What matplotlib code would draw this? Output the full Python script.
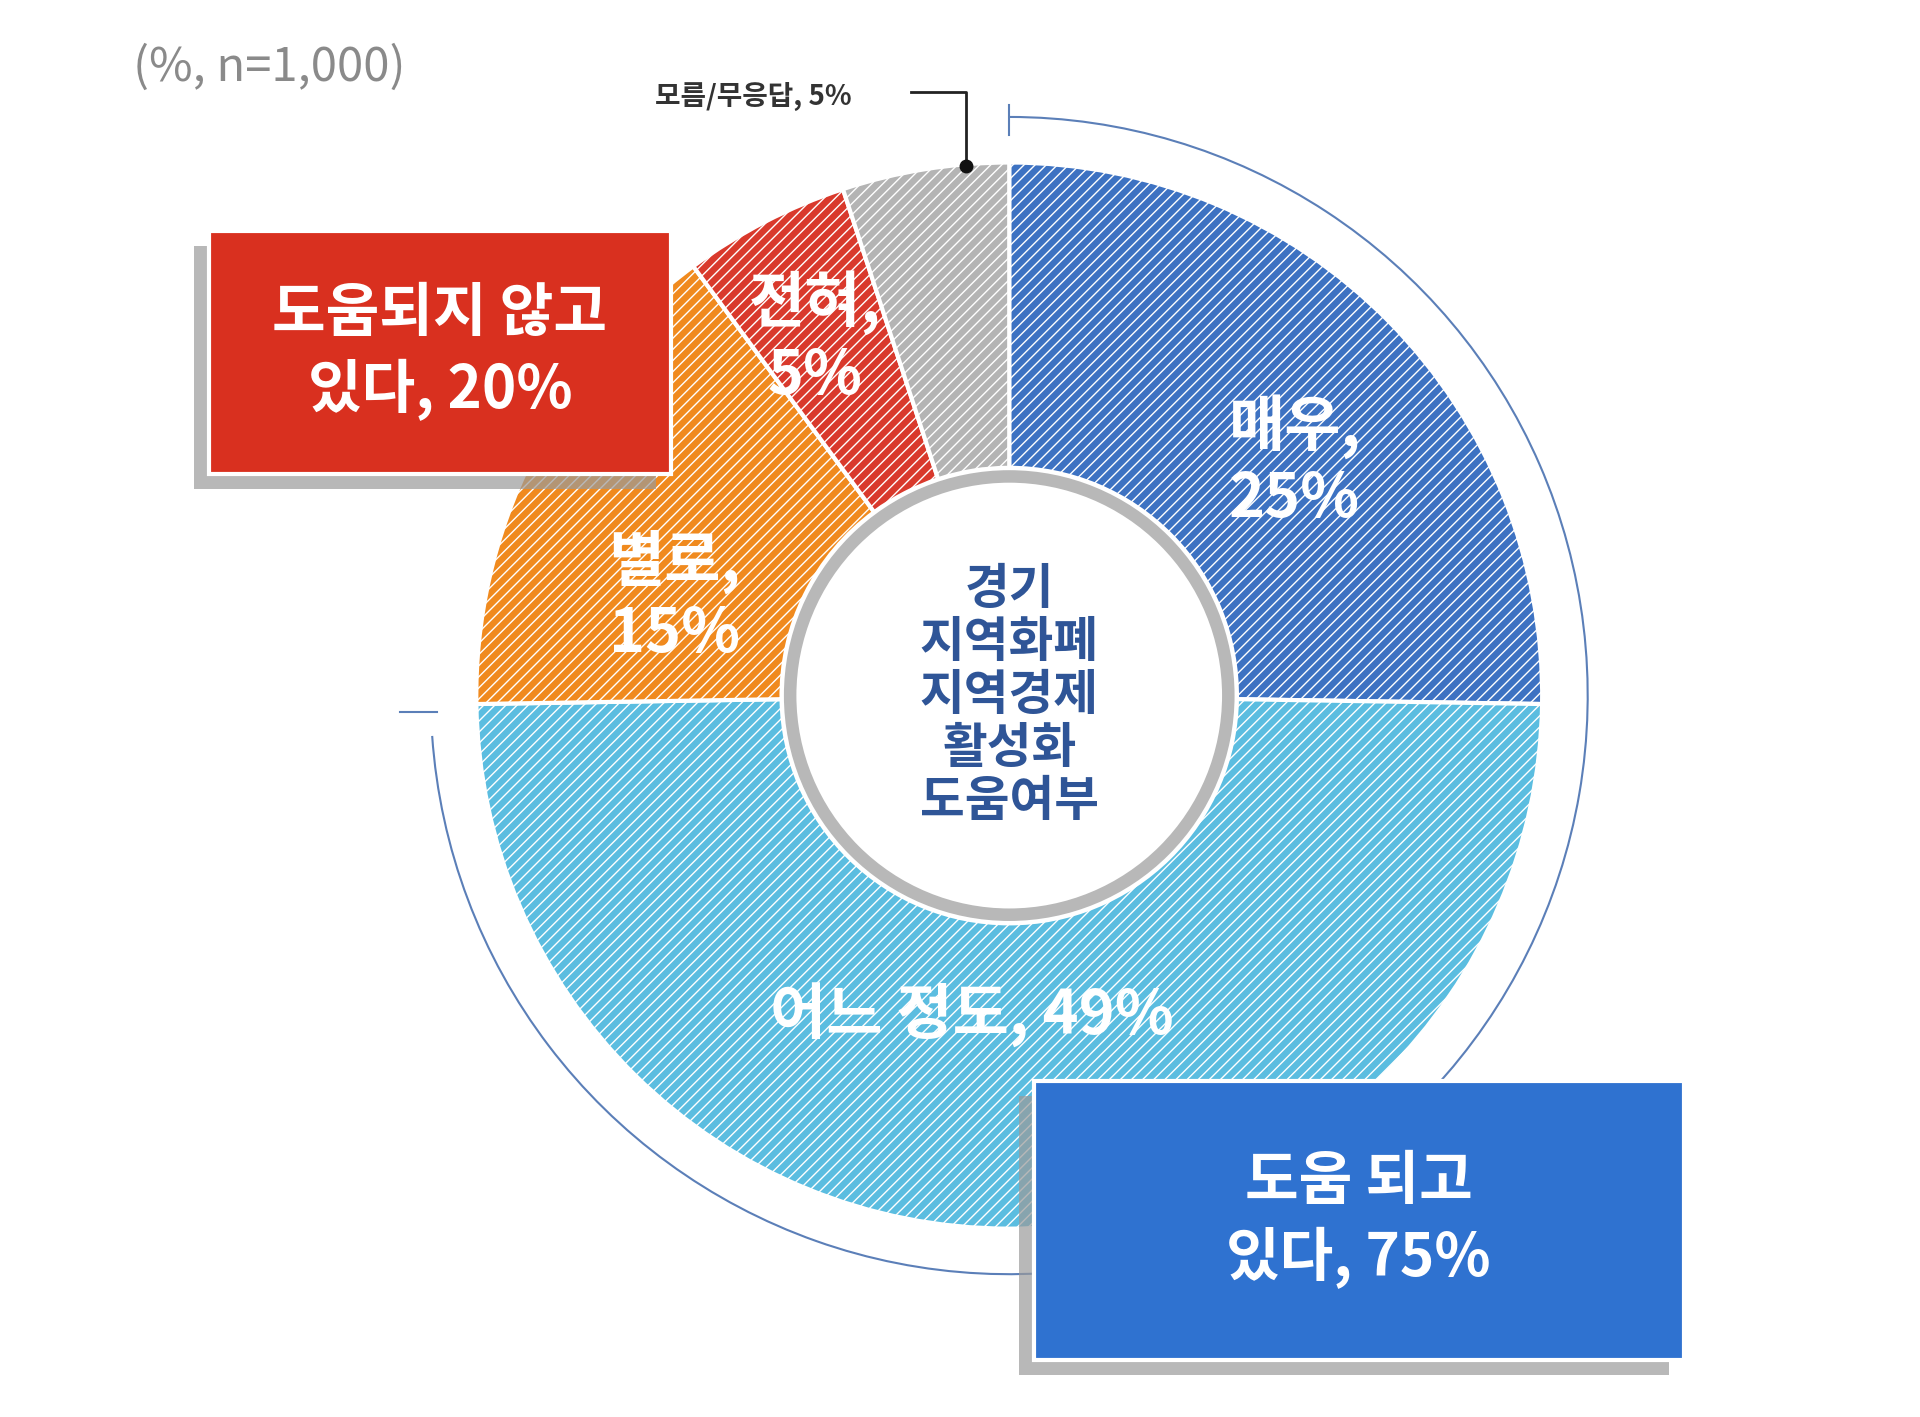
import matplotlib

matplotlib.use("Agg")
import matplotlib.pyplot as plt
from matplotlib.patches import Wedge, Circle, Arc, Rectangle

plt.rcParams["font.family"] = ["Noto Sans CJK KR", "DejaVu Sans"]
plt.rcParams["hatch.color"] = "white"
plt.rcParams["hatch.linewidth"] = 1.0

# data (clockwise from 12 o'clock)
labels = ["매우,\n25%", "어느 정도, 49%", "별로,\n15%", "전혀,\n5%", ""]
values = [25, 49, 15, 5, 5]
colors = ["#3d72c2", "#5bbde0", "#f08a1e", "#d9392c", "#b4b4b4"]
label_pos = [(1052, 375), (790, 825), (548, 485), (662, 275), None]
center_text = "경기\n지역화폐\n지역경제\n활성화\n도움여부"

W, H = 1560, 1151
fig = plt.figure(figsize=(19.2, 14.17), dpi=100)
ax = fig.add_axes([0, 0, 1, 1])
ax.set_xlim(0, W)
ax.set_ylim(0, H)
ax.axis("off")


def Y(y):
    return H - y


cx, cy = 820, Y(565)
r_out, r_in = 433, 185

ang = 90.0
total = sum(values)
for v, c in zip(values, colors):
    sweep = v / total * 360
    ax.add_patch(Wedge((cx, cy), r_out, ang - sweep, ang, width=r_out - r_in,
                       facecolor=c, edgecolor="white", hatch="///", lw=0))
    ax.add_patch(Wedge((cx, cy), r_out, ang - sweep, ang, width=r_out - r_in,
                       facecolor="none", edgecolor="white", lw=3))
    ang -= sweep

ax.add_patch(Circle((cx, cy), 178, facecolor="white", edgecolor="#b8b8b8", lw=9))
ax.text(cx, cy, center_text, ha="center", va="center", fontsize=35,
        color="#2f5597", fontweight="bold", linespacing=1.1)

for lab, pos in zip(labels, label_pos):
    if pos is None:
        continue
    ax.text(pos[0], Y(pos[1]), lab, ha="center", va="center", fontsize=44,
            color="white", fontweight="bold", linespacing=1.2)

# outer arc for "도움 되고 있다" (75%)
span = 75 / 100 * 360
ax.add_patch(Arc((cx, cy), 2 * 470, 2 * 470, theta1=90 - span + 4, theta2=90,
                 color="#5b7fb8", lw=1.5))
ax.plot([cx, cx], [Y(85), Y(110)], color="#5b7fb8", lw=1.5)
ax.plot([325, 355], [Y(578), Y(578)], color="#5b7fb8", lw=1.5)

# unknown leader
ax.text(612, Y(78), "모름/무응답, 5%", ha="center", va="center", fontsize=20,
        color="#333333", fontweight="bold")
ax.plot([740, 785, 785], [Y(75), Y(75), Y(135)], color="#222222", lw=2)
ax.plot([785], [Y(135)], "o", color="#111111", ms=9)

ax.text(108, Y(55), "(%, n=1,000)", ha="left", va="center", fontsize=34,
        color="#8a8a8a")


def box(x0, y0, x1, y1, color, text):
    ax.add_patch(Rectangle((x0 - 12, Y(y1) - 12), x1 - x0, y1 - y0,
                           facecolor="#9a9a9a", edgecolor="none", alpha=0.7))
    ax.add_patch(Rectangle((x0, Y(y1)), x1 - x0, y1 - y0, facecolor=color,
                           edgecolor="white", lw=3))
    ax.text((x0 + x1) / 2, Y((y0 + y1) / 2), text, ha="center", va="center",
            fontsize=42, color="white", fontweight="bold", linespacing=1.3)


box(170, 188, 545, 385, "#d9301f", "도움되지 않고\n있다, 20%")
box(840, 878, 1368, 1105, "#2f72d0", "도움 되고\n있다, 75%")

fig.savefig("out.png", dpi=100)
